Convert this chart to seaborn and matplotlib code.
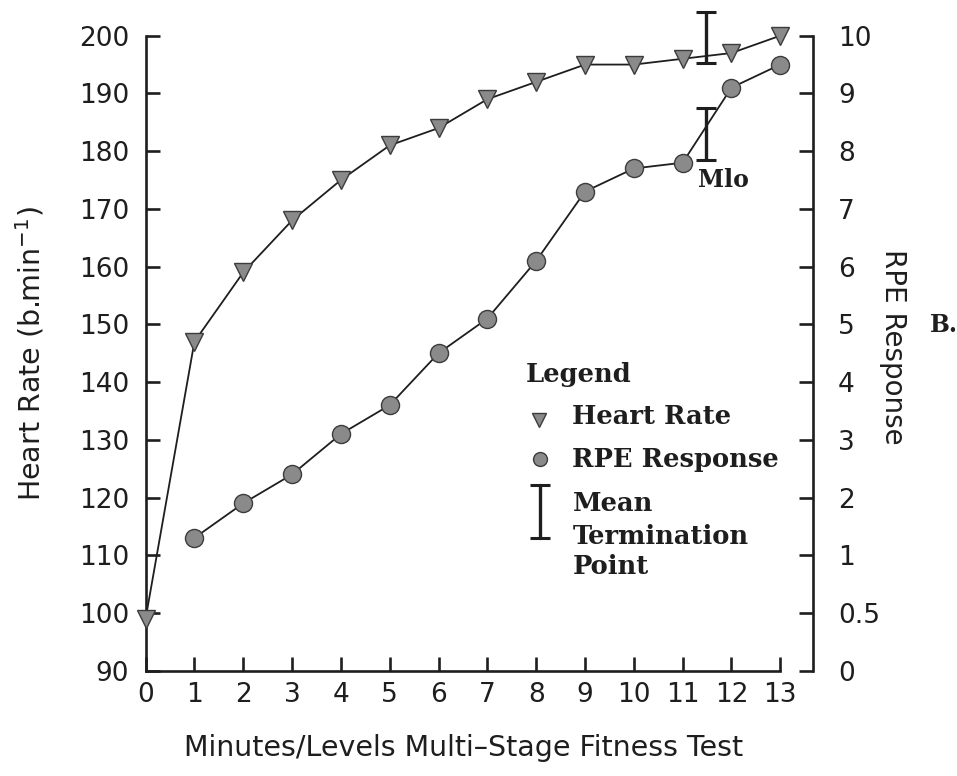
import matplotlib
matplotlib.use("Agg")
import matplotlib.pyplot as plt
import seaborn as sns
import pandas as pd

# ---- data ----
minutes_hr = [0, 1, 2, 3, 4, 5, 6, 7, 8, 9, 10, 11, 12, 13]
heart_rate = [99, 147, 159, 168, 175, 181, 184, 189, 192, 195, 195, 196, 197, 200]

minutes_rpe = [1, 2, 3, 4, 5, 6, 7, 8, 9, 10, 11, 12, 13]
rpe_response = [1.3, 1.9, 2.4, 3.1, 3.6, 4.5, 5.1, 6.1, 7.3, 7.7, 7.8, 9.1, 9.5]

term_level = [11.47]
hr_term_mean = [199.65]
hr_term_sd = [4.45]
rpe_term_mean = [8.3]
rpe_term_sd = [0.45]

x_ticks = list(range(0, 14))
hr_ticks = [90, 100, 110, 120, 130, 140, 150, 160, 170, 180, 190, 200]
rpe_tick_pos = [-1, 0, 1, 2, 3, 4, 5, 6, 7, 8, 9, 10]
rpe_tick_labels = ["0", "0.5", "1", "2", "3", "4", "5", "6", "7", "8", "9", "10"]

df_hr = pd.DataFrame({"minute": minutes_hr, "hr": heart_rate})
df_rpe = pd.DataFrame({"minute": minutes_rpe, "rpe": rpe_response})

# ---- style ----
sns.set_theme(style="ticks")
plt.rcParams["font.family"] = ["DejaVu Sans"]

INK = "#1e1e1e"
FILL = "#8a8a8a"
EDGE = "#3c3c3c"
SERIF = dict(family="DejaVu Serif", weight="bold", size=18.5, color=INK)

fig = plt.figure(figsize=(9.57, 7.76), dpi=100)
ax = fig.add_axes([145.6 / 957, 1 - 670.7 / 776, (813 - 145.6) / 957, (670.7 - 35.7) / 776])
ax2 = ax.twinx()

# Heart rate series
sns.lineplot(data=df_hr, x="minute", y="hr", ax=ax, color=INK, lw=1.3,
             marker="v", markersize=12.5, markerfacecolor=FILL,
             markeredgecolor=EDGE, markeredgewidth=1.0, clip_on=False,
             legend=False, zorder=3)
# RPE series
sns.lineplot(data=df_rpe, x="minute", y="rpe", ax=ax2, color=INK, lw=1.3,
             marker="o", markersize=13, markerfacecolor=FILL,
             markeredgecolor=EDGE, markeredgewidth=1.0, clip_on=False,
             legend=False, zorder=3)

# Mean termination points
for a, m, s in [(ax, hr_term_mean, hr_term_sd), (ax2, rpe_term_mean, rpe_term_sd)]:
    cont = a.errorbar(term_level, m, yerr=s, fmt="none", ecolor=INK,
                      elinewidth=2.4, capsize=7, capthick=2.2)
    for art in cont.get_children():
        art.set_clip_on(False)

ax2.text(11.31, 7.5, "Mlo", ha="left", va="center",
         **{**SERIF, "size": 17})

# ---- axes ----
ax.set_xlim(0, 13.67)
ax.set_ylim(90, 200)
ax2.set_ylim(-1, 10)
ax.set_xticks(x_ticks)
ax.set_yticks(hr_ticks)
ax2.set_yticks(rpe_tick_pos)
ax2.set_yticklabels(rpe_tick_labels)

for a in (ax, ax2):
    for sp in a.spines.values():
        sp.set_linewidth(1.9)
        sp.set_color(INK)
    a.spines["top"].set_visible(False)
    a.set_xlabel("")
    a.set_ylabel("")
ax.spines["right"].set_visible(False)
ax2.spines["left"].set_visible(False)
ax2.spines["bottom"].set_visible(False)
ax.spines["bottom"].set_bounds(0, 13)

ax.tick_params(axis="both", direction="in", length=10, width=1.9, color=INK,
               labelsize=19, labelcolor=INK)
ax.tick_params(axis="y", pad=12)
ax.tick_params(axis="x", pad=8)
ax2.tick_params(axis="y", direction="in", length=10, width=1.9, color=INK,
                labelsize=19, labelcolor=INK, pad=18)

ax.set_ylabel("Heart Rate (b.min$^{-1}$)", fontsize=20.5, color=INK, va="center")
ax.yaxis.set_label_coords(-0.173, 0.5)
ax.set_xlabel("Minutes/Levels Multi\u2013Stage Fitness Test", fontsize=20.5,
              color=INK, va="center")
ax.xaxis.set_label_coords(0.477, -0.122)
ax2.set_ylabel("RPE Response", fontsize=20, color=INK, rotation=-90, va="center")
ax2.yaxis.set_label_coords(1.12, 0.51)

fig.text(944 / 957, 1 - 325 / 776, "B.", ha="center", va="center",
         **{**SERIF, "size": 17})

# ---- legend (drawn by hand to mimic the original) ----
T = ax.transAxes
ax.text(0.569, 0.467, "Legend", transform=T, ha="left", va="center", **SERIF)
ax.plot([0.590], [0.395], transform=T, marker="v", markersize=10,
        markerfacecolor=FILL, markeredgecolor=EDGE, ls="none", clip_on=False)
ax.text(0.639, 0.400, "Heart Rate", transform=T, ha="left", va="center", **SERIF)
ax.plot([0.591], [0.334], transform=T, marker="o", markersize=10,
        markerfacecolor=FILL, markeredgecolor=EDGE, ls="none", clip_on=False)
ax.text(0.639, 0.332, "RPE Response", transform=T, ha="left", va="center", **SERIF)
ax.plot([0.591, 0.591], [0.2085, 0.292], transform=T, color=INK, lw=2.4,
        marker="_", markersize=14, markeredgewidth=2.2, clip_on=False)
ax.text(0.640, 0.2636, "Mean", transform=T, ha="left", va="center", **SERIF)
ax.text(0.640, 0.211, "Termination", transform=T, ha="left", va="center", **SERIF)
ax.text(0.640, 0.164, "Point", transform=T, ha="left", va="center", **SERIF)

fig.savefig("out.png", dpi=100, facecolor="white")
